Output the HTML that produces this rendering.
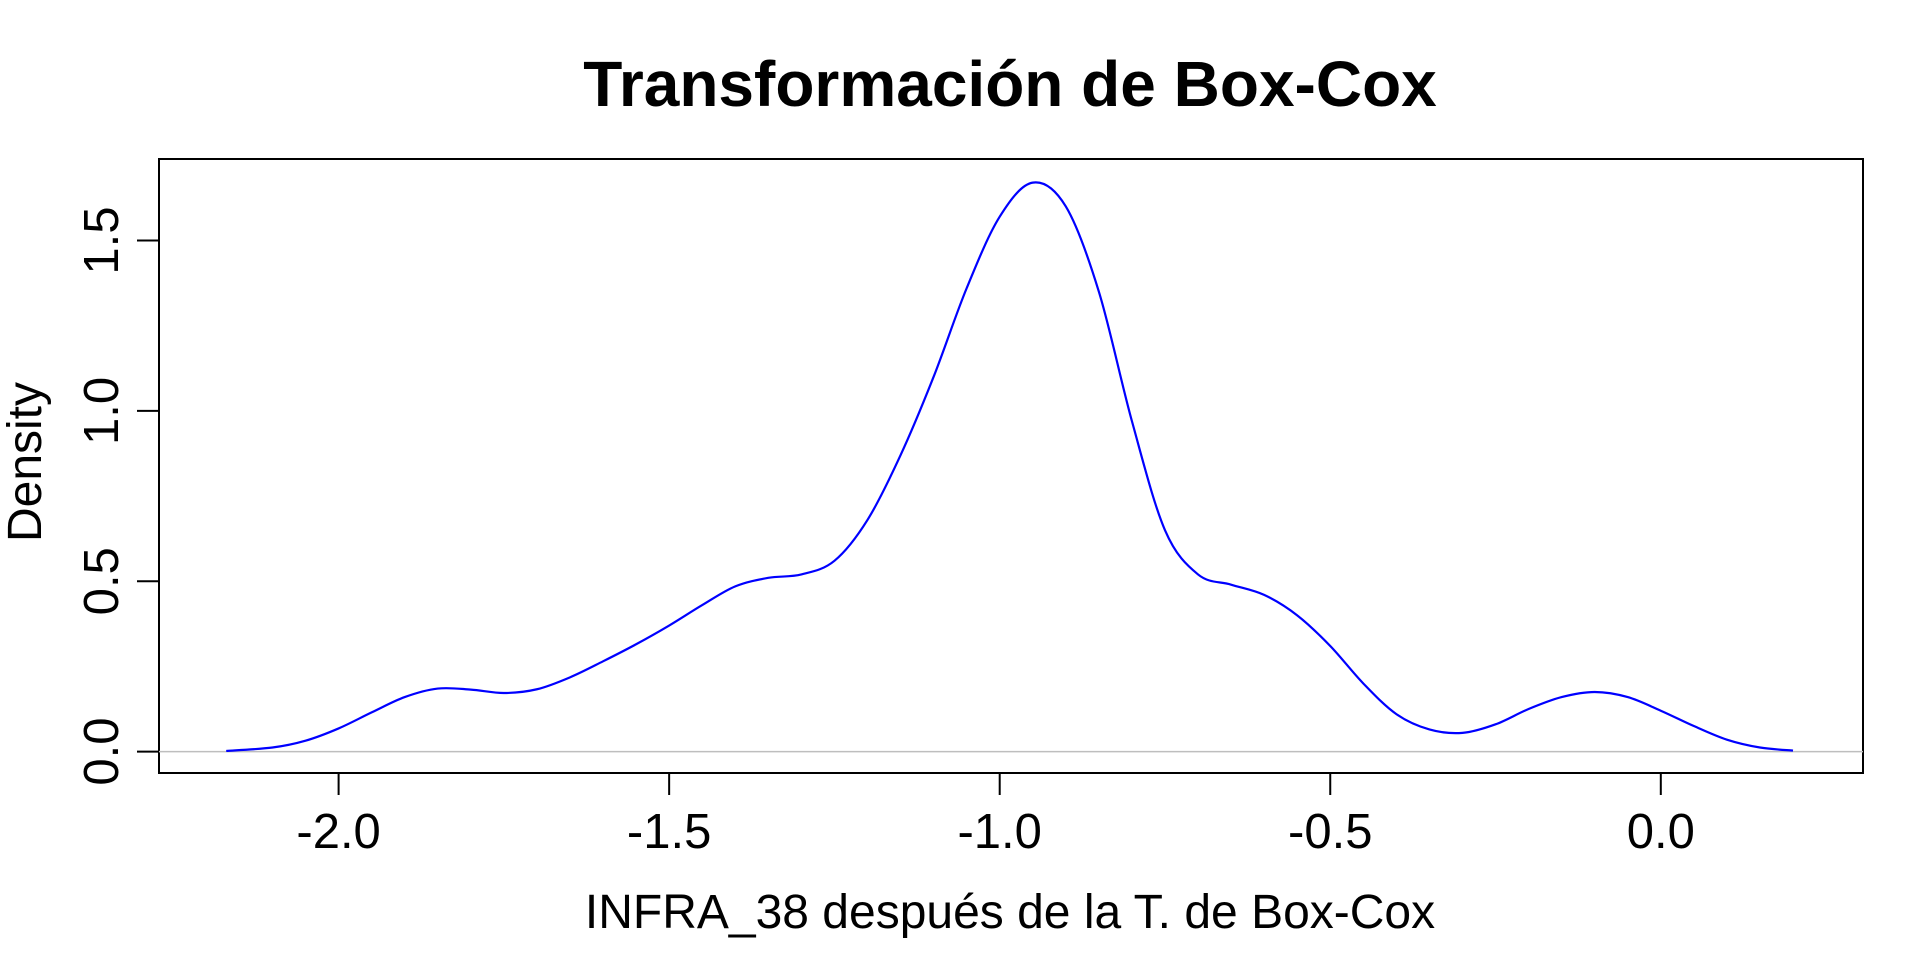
<!DOCTYPE html>
<html><head><meta charset="utf-8"><style>html,body{margin:0;padding:0;background:#fff}svg{display:block}</style></head>
<body>
<svg width="1920" height="960" viewBox="0 0 1920 960" xmlns="http://www.w3.org/2000/svg" font-family="Liberation Sans, Arial, sans-serif">
<text x="1010" y="106" font-size="64" font-weight="bold" text-anchor="middle">Transformación de Box-Cox</text>
<rect x="159" y="159" width="1704" height="614" fill="none" stroke="#000" stroke-width="2"/>
<g id="axes"></g>
<text x="1010" y="928" font-size="48" text-anchor="middle">INFRA_38 después de la T. de Box-Cox</text>
<text transform="translate(41,462) rotate(-90)" font-size="48" text-anchor="middle">Density</text>
</svg>
<script>
const xs = [-2.17,-2.1,-2.05,-2.0,-1.95,-1.9,-1.85,-1.8,-1.75,-1.7,-1.65,-1.6,-1.55,-1.5,-1.45,-1.4,-1.35,-1.3,-1.25,-1.2,-1.15,-1.1,-1.05,-1.0,-0.95,-0.9,-0.85,-0.8,-0.75,-0.7,-0.65,-0.6,-0.55,-0.5,-0.45,-0.4,-0.35,-0.3,-0.25,-0.2,-0.15,-0.1,-0.05,0.0,0.05,0.1,0.15,0.2];
const ys = [0.002,0.012,0.032,0.068,0.115,0.16,0.185,0.182,0.172,0.183,0.218,0.265,0.315,0.37,0.43,0.485,0.51,0.52,0.56,0.68,0.87,1.1,1.36,1.57,1.67,1.6,1.35,0.97,0.65,0.52,0.49,0.46,0.4,0.31,0.2,0.11,0.065,0.055,0.08,0.125,0.16,0.175,0.16,0.12,0.075,0.035,0.012,0.003];
const xTicks = [-2.0,-1.5,-1.0,-0.5,0.0];
const yTicks = [0.0,0.5,1.0,1.5];
const xTickLabels = ["-2.0","-1.5","-1.0","-0.5","0.0"];
const yTickLabels = ["0.0","0.5","1.0","1.5"];
const NS="http://www.w3.org/2000/svg";
const X = v => 1660.8 + v*661.1;
const Y = v => 751.6 - v*340.7;
const g = document.getElementById('axes');
function mk(t,a){const e=document.createElementNS(NS,t);for(const k in a)e.setAttribute(k,a[k]);g.appendChild(e);return e;}
const zl = mk('line',{x1:159,x2:1863,y1:Y(0),y2:Y(0),stroke:'#bebebe','stroke-width':1.5});


xTicks.forEach((v,i)=>{
  const l=mk('line',{x1:X(v),x2:X(v),y1:773,y2:795,stroke:'#000','stroke-width':2});
  
  
  const t=mk('text',{x:X(v),y:848,'font-size':49,'text-anchor':'middle'});
  t.textContent=xTickLabels[i];
  
  
});
yTicks.forEach((v,i)=>{
  const l=mk('line',{x1:137,x2:159,y1:Y(v),y2:Y(v),stroke:'#000','stroke-width':2});
  
  
  const t=mk('text',{transform:`translate(118,${Y(v)}) rotate(-90)`,'font-size':49,'text-anchor':'middle'});
  t.textContent=yTickLabels[i];
  
  
});
const P=xs.map((x,i)=>[X(x),Y(ys[i])]);
let d=`M${P[0][0]},${P[0][1]}`;
for(let i=0;i<P.length-1;i++){
  const p0=P[Math.max(i-1,0)],p1=P[i],p2=P[i+1],p3=P[Math.min(i+2,P.length-1)];
  d+=` C${p1[0]+(p2[0]-p0[0])/6},${p1[1]+(p2[1]-p0[1])/6} ${p2[0]-(p3[0]-p1[0])/6},${p2[1]-(p3[1]-p1[1])/6} ${p2[0]},${p2[1]}`;
}
const c=mk('path',{d:d,fill:'none',stroke:'#0000ff','stroke-width':2.2});


</script>
</body></html>
